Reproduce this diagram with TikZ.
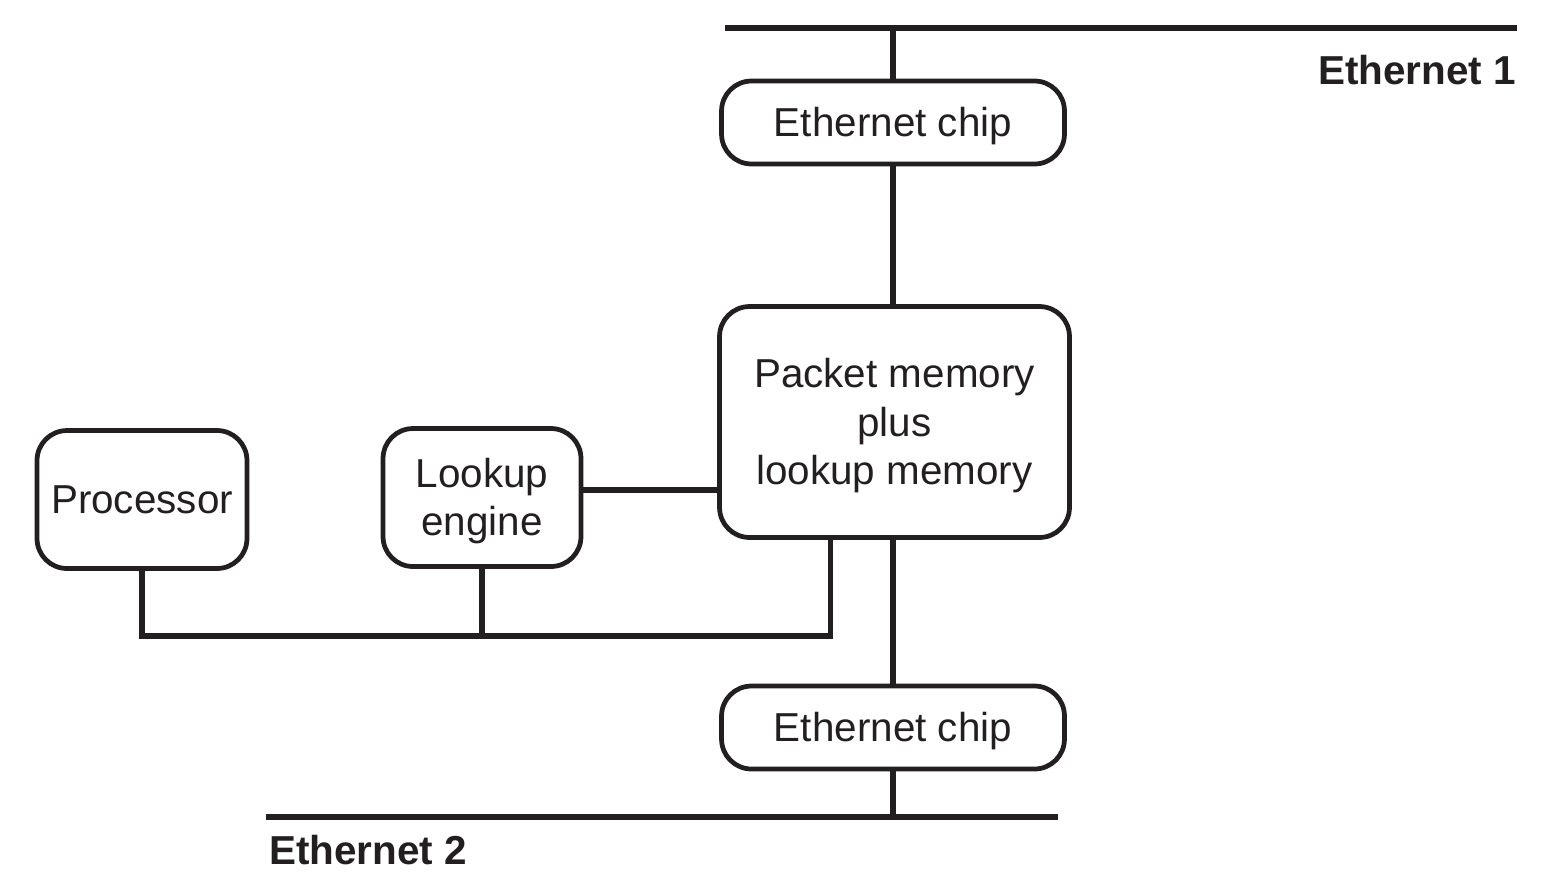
\documentclass[tikz,border=0pt]{standalone}
\usepackage{fontspec}
\setmainfont{Liberation Sans}
\usepackage{xcolor}
\definecolor{ink}{RGB}{35,31,32}
\usepackage{tikz}
\usetikzlibrary{positioning,calc}
\newcommand{\lowered}[1]{\raisebox{-2.6pt}[\height][\depth]{\begin{tabular}{@{}c@{}}#1\end{tabular}}}
\tikzstyle{unit} = [
    draw=ink, text=ink, line width=2.7pt, rounded corners=0.6cm,
    align=center, font=\fontsize{23}{27.5}\selectfont, inner sep=0pt,
]
\tikzstyle{wire} = [draw=ink, line width=3.1pt]
\tikzstyle{netname} = [text=ink, inner sep=0pt, font=\fontsize{23}{27.5}\selectfont\bfseries]

\begin{document}
\begin{tikzpicture}[x=0.02cm,y=-0.02cm]
    \useasboundingbox (0,0) rectangle (1550,876);
    % the two ethernets
    \coordinate (eth1w) at (725,28);
    \coordinate (eth1e) at (1517,28);
    \coordinate (eth2w) at (266,817);
    \coordinate (eth2e) at (1058,817);
    \draw[wire] (eth1w) -- (eth1e);
    \draw[wire] (eth2w) -- (eth2e);
    \node[netname, anchor=base east] (net1) at (1516,84) {Ethernet 1};
    \node[netname, anchor=base west] (net2) at (269,864) {Ethernet 2};

    % boxes
    \node[unit, minimum width=6.86cm, minimum height=1.66cm] (chip1) at (893,122.5) {\lowered{Ethernet chip}};
    \node[unit, minimum width=7.0cm, minimum height=4.62cm] (mem) at (894.5,422) {\lowered{Packet memory\\plus\\lookup memory}};
    \node[unit, minimum width=3.96cm, minimum height=2.76cm] (look) at (482,497.5) {\lowered{Lookup\\engine}};
    \node[unit, minimum width=4.2cm, minimum height=2.76cm] (proc) at (142,499.5) {Processor};
    \node[unit, minimum width=6.86cm, minimum height=1.66cm] (chip2) at (893,727.5) {\lowered{Ethernet chip}};

    % links
    \coordinate (bus) at (0,636);
    \coordinate (side) at (0,490);
    \coordinate (memtap) at ($(mem.south)+(-64,0)$);
    \draw[wire] (chip1.north) -- (chip1.north |- eth1w);
    \draw[wire] (chip1.south) -- (mem.north -| chip1.south);
    \draw[wire] (mem.south -| chip2.north) -- (chip2.north);
    \draw[wire] (chip2.south) -- (chip2.south |- eth2w);
    \draw[wire] (look.east |- side) -- (mem.west |- side);
    \draw[wire] (proc.south) -- (proc.south |- bus) -- (memtap |- bus) -- (memtap);
    \draw[wire] (look.south) -- (look.south |- bus);

\end{tikzpicture}
\end{document}
